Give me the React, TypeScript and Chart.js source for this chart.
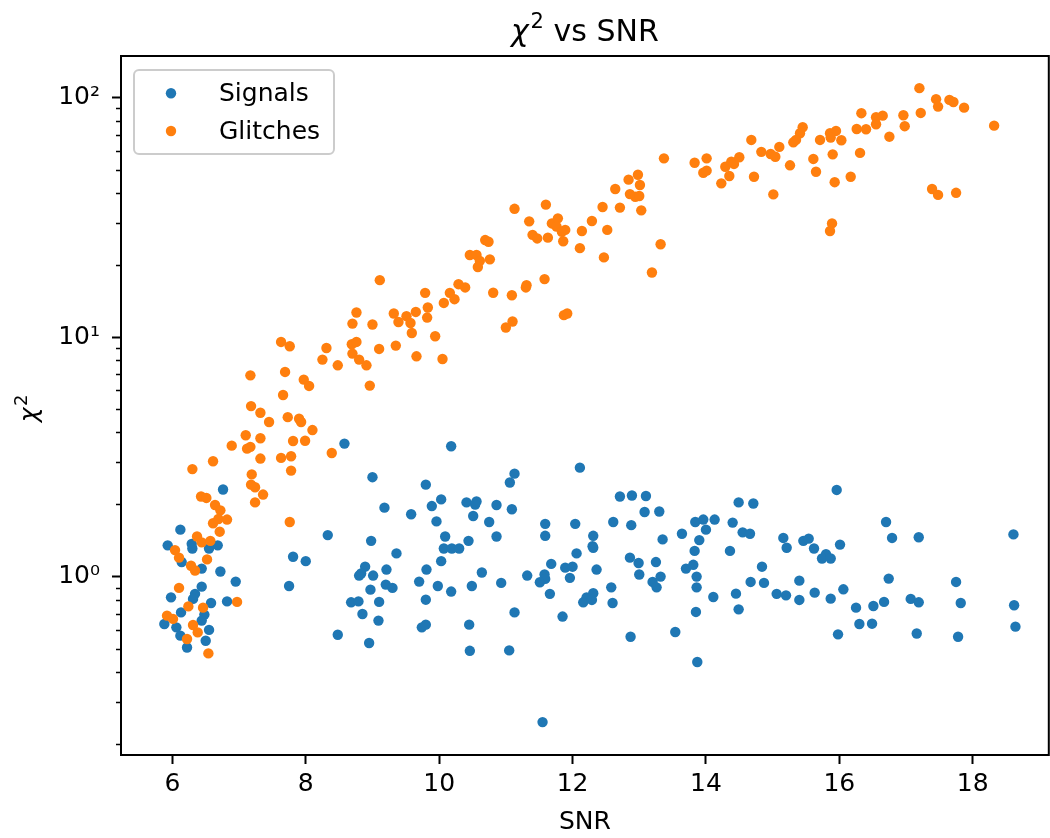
import React, { useEffect, useRef } from 'react';
import { Chart, registerables } from 'chart.js';

Chart.register(...registerables);

const seriesLabels = ['Signals', 'Glitches'];
const seriesColors = ['#1f77b4', '#ff7f0e'];

const signalSNR = [
  6.76, 6.12, 5.93, 6.29, 6.30, 6.68, 6.55, 6.14, 6.44, 6.72, 6.95, 6.44, 6.34, 5.98, 6.31, 6.58, 6.82, 6.13, 6.48, 6.44,
  5.88, 6.06, 6.55, 6.12, 6.50, 6.22, 8.58, 10.18, 9.00, 9.80, 10.03, 9.89, 10.41, 9.18, 9.58, 9.96, 10.51, 8.33, 8.98, 10.09,
  10.44, 10.07, 10.19, 10.30, 9.36, 10.03, 7.81, 8.00, 8.89, 9.21, 9.81, 8.80, 8.83, 9.01, 9.70, 9.20, 9.30, 9.98, 10.18, 8.97,
  7.75, 10.49, 8.68, 8.79, 9.10, 9.80, 8.85, 9.09, 9.74, 9.80, 10.45, 8.48, 8.95, 10.46, 12.11, 11.13, 11.06, 10.56, 10.54, 10.86,
  11.09, 10.75, 12.71, 12.89, 13.10, 13.08, 13.30, 11.59, 12.04, 12.61, 12.88, 11.59, 10.86, 12.31, 12.30, 12.31, 12.06, 12.86, 12.99, 13.25,
  11.68, 11.89, 12.00, 12.36, 10.64, 11.32, 11.58, 11.59, 11.51, 11.96, 13.00, 13.20, 13.26, 13.32, 10.93, 11.66, 12.58, 12.31, 12.21, 12.16,
  12.29, 12.60, 11.13, 11.85, 12.87, 11.05, 11.55, 15.96, 14.49, 14.71, 13.84, 13.96, 14.13, 14.00, 14.40, 13.64, 14.55, 14.66, 13.90, 13.35,
  15.16, 15.21, 15.46, 15.54, 16.01, 13.83, 14.36, 15.62, 15.80, 15.74, 15.87, 13.70, 13.81, 14.84, 13.86, 13.86, 14.67, 14.87, 15.40, 14.11,
  14.45, 15.06, 15.20, 15.40, 15.63, 15.87, 16.06, 13.85, 14.49, 13.54, 15.98, 13.87, 16.70, 16.79, 17.19, 18.61, 16.74, 17.75, 16.25, 16.51,
  16.67, 17.07, 17.19, 17.82, 18.62, 16.30, 16.49, 17.16, 17.78, 18.64,
];
const signalChi2 = [
  2.31, 1.57, 1.35, 1.37, 1.31, 1.35, 1.31, 1.15, 1.08, 1.05, 0.953, 0.908, 0.847, 0.819, 0.807, 0.776, 0.788, 0.709, 0.694, 0.655,
  0.634, 0.614, 0.599, 0.567, 0.540, 0.506, 3.59, 3.50, 2.60, 2.42, 2.10, 1.97, 2.04, 1.94, 1.82, 1.70, 1.79, 1.49, 1.41, 1.47,
  1.41, 1.31, 1.31, 1.31, 1.25, 1.16, 1.21, 1.16, 1.10, 1.07, 1.07, 1.01, 1.03, 1.01, 0.953, 0.926, 0.897, 0.914, 0.866, 0.882,
  0.914, 0.914, 0.781, 0.788, 0.784, 0.801, 0.698, 0.655, 0.614, 0.630, 0.630, 0.572, 0.528, 0.490, 2.85, 2.69, 2.47, 2.06, 2.00, 1.99,
  1.91, 1.69, 2.16, 2.18, 2.17, 1.86, 1.87, 1.66, 1.66, 1.69, 1.64, 1.48, 1.47, 1.48, 1.34, 1.32, 1.25, 1.20, 1.14, 1.15,
  1.13, 1.09, 1.10, 1.07, 1.04, 1.01, 1.02, 0.978, 0.947, 0.988, 1.02, 0.950, 0.902, 1.00, 0.941, 0.847, 0.902, 0.852, 0.819, 0.781,
  0.799, 0.776, 0.709, 0.681, 0.561, 0.492, 0.247, 2.30, 2.04, 2.02, 1.69, 1.73, 1.73, 1.57, 1.68, 1.51, 1.53, 1.51, 1.42, 1.43,
  1.45, 1.32, 1.41, 1.44, 1.36, 1.28, 1.28, 1.31, 1.24, 1.19, 1.19, 1.08, 1.12, 1.10, 1.00, 0.902, 0.950, 0.941, 0.962, 0.822,
  0.849, 0.847, 0.835, 0.799, 0.857, 0.809, 0.885, 0.712, 0.730, 0.587, 0.574, 0.440, 1.69, 1.45, 1.46, 1.50, 0.981, 0.950, 0.742, 0.754,
  0.784, 0.807, 0.781, 0.776, 0.759, 0.634, 0.636, 0.579, 0.561, 0.618,
];

const glitchSNR = [
  7.17, 7.18, 7.32, 7.45, 7.10, 7.32, 7.12, 7.17, 6.89, 7.32, 6.61, 6.30, 7.19, 7.18, 7.24, 7.36, 7.24, 6.43, 6.51, 6.64,
  6.72, 6.69, 6.82, 6.61, 6.71, 6.37, 6.44, 6.57, 6.04, 6.10, 6.52, 6.28, 6.34, 6.10, 6.97, 6.24, 6.46, 5.92, 6.01, 6.31,
  6.38, 6.22, 6.54, 7.63, 7.76, 7.69, 7.97, 8.05, 7.66, 7.73, 7.90, 7.93, 8.10, 7.81, 7.99, 7.63, 7.78, 7.78, 8.39, 7.76,
  8.31, 8.25, 8.48, 8.69, 8.76, 8.70, 8.80, 8.91, 8.96, 8.76, 8.70, 9.00, 9.10, 9.35, 9.32, 9.51, 9.39, 9.57, 9.65, 9.59,
  9.66, 9.94, 10.05, 9.83, 9.82, 9.79, 10.07, 10.16, 10.23, 10.39, 10.29, 9.11, 12.64, 11.13, 11.60, 12.45, 12.71, 11.35, 12.29, 11.69,
  11.78, 11.76, 11.89, 11.84, 12.14, 12.52, 11.40, 11.47, 11.63, 11.86, 12.11, 12.47, 10.69, 10.74, 10.46, 10.56, 10.61, 10.58, 10.76, 10.81,
  11.09, 11.31, 11.30, 11.58, 11.10, 11.00, 11.87, 11.92, 15.45, 15.41, 15.35, 15.31, 14.68, 14.83, 15.10, 14.97, 15.04, 15.61, 15.65, 15.26,
  14.72, 15.01, 13.37, 13.83, 14.01, 13.96, 14.01, 14.29, 14.38, 14.42, 14.50, 14.35, 14.23, 12.84, 12.98, 13.01, 12.86, 12.94, 13.00, 13.03,
  13.32, 13.19, 17.20, 17.45, 17.48, 17.65, 17.71, 17.87, 18.32, 16.33, 16.55, 16.65, 16.96, 17.22, 16.55, 16.98, 16.26, 16.40, 16.75, 15.86,
  15.95, 15.87, 15.71, 16.03, 15.90, 16.31, 15.93, 16.17, 17.39, 17.48, 17.75, 15.89, 15.86,
];
const glitchChi2 = [
  6.92, 5.15, 4.83, 4.42, 3.89, 3.78, 3.42, 3.48, 3.52, 3.11, 3.03, 2.81, 2.67, 2.42, 2.36, 2.20, 2.04, 2.16, 2.13, 1.99,
  1.89, 1.74, 1.73, 1.67, 1.54, 1.47, 1.39, 1.41, 1.29, 1.20, 1.18, 1.11, 1.06, 0.897, 0.784, 0.751, 0.742, 0.687, 0.666, 0.628,
  0.585, 0.549, 0.478, 9.54, 9.15, 7.15, 6.64, 6.25, 5.73, 4.63, 4.56, 4.42, 4.09, 3.68, 3.69, 3.13, 3.18, 2.77, 3.28, 1.69,
  9.00, 8.05, 7.62, 9.33, 9.54, 8.53, 8.05, 7.62, 6.27, 12.66, 11.38, 11.28, 8.92, 9.21, 12.54, 12.22, 11.56, 11.45, 12.73, 10.40,
  8.31, 10.08, 8.10, 13.29, 12.06, 15.29, 13.88, 15.29, 14.39, 16.11, 16.62, 17.28, 41.5, 34.3, 35.7, 34.9, 34.7, 30.4, 30.5, 29.8,
  31.3, 28.9, 28.0, 27.5, 27.7, 28.0, 26.7, 25.8, 26.0, 25.1, 23.5, 21.5, 25.4, 25.0, 22.0, 22.0, 20.8, 19.6, 21.1, 15.3,
  14.95, 16.47, 16.11, 17.45, 11.61, 10.96, 12.34, 12.54, 75.1, 70.9, 66.5, 65.0, 66.5, 59.3, 62.2, 58.1, 56.6, 55.4, 49.0, 52.1,
  46.7, 39.4, 55.7, 53.4, 55.7, 48.5, 49.5, 51.4, 54.0, 52.8, 56.3, 47.0, 43.8, 45.4, 47.6, 43.1, 39.5, 38.5, 38.8, 33.8,
  24.4, 18.6, 109.4, 98.4, 91.6, 97.7, 95.8, 90.7, 76.3, 86.0, 82.7, 84.0, 84.3, 86.2, 77.3, 75.9, 73.9, 73.7, 68.6, 70.9,
  72.5, 68.0, 66.5, 66.3, 57.9, 58.7, 44.3, 46.7, 41.5, 39.2, 40.0, 29.8, 27.7,
];

const xTickValues = [6, 8, 10, 12, 14, 16, 18];
const yMajorTicks = [1, 10, 100];
const yTickLabels = ['10\u2070', '10\u00b9', '10\u00b2'];
const yMinorTicks = [0.2, 0.3, 0.4, 0.5, 0.6, 0.7, 0.8, 0.9, 2, 3, 4, 5, 6, 7, 8, 9, 20, 30, 40, 50, 60, 70, 80, 90];
const titleSuffix = ' vs SNR';
const xAxisLabel = 'SNR';

const FONT = '"DejaVu Sans", sans-serif';
const CANVAS_W = 1054;

function drawChi2(ctx: CanvasRenderingContext2D, x: number, y: number, size: number, suffix: string) {
  const italic = `italic ${size}px ${FONT}`;
  const normal = `${size}px ${FONT}`;
  const sup = `${Math.round(size * 0.7)}px ${FONT}`;
  ctx.font = italic;
  const w1 = ctx.measureText('\u03c7').width;
  ctx.font = sup;
  const w2 = ctx.measureText('2').width;
  ctx.font = normal;
  const w3 = suffix ? ctx.measureText(suffix).width : 0;
  const gap = size * 0.06;
  let x0 = x - (w1 + gap + w2 + w3) / 2;
  ctx.textAlign = 'left';
  ctx.textBaseline = 'alphabetic';
  ctx.fillStyle = '#000';
  ctx.font = italic;
  ctx.fillText('\u03c7', x0, y);
  x0 += w1 + gap;
  ctx.font = sup;
  ctx.fillText('2', x0, y - size * 0.42);
  x0 += w2;
  if (suffix) {
    ctx.font = normal;
    ctx.fillText(suffix, x0, y);
  }
}

const decorPlugin = {
  id: 'decor',
  afterDraw(chart: any) {
    const ctx: CanvasRenderingContext2D = chart.ctx;
    const area = chart.chartArea;
    const yScale = chart.scales.y;
    ctx.save();
    // top & right spines
    ctx.strokeStyle = '#000';
    ctx.lineWidth = 2;
    ctx.beginPath();
    ctx.moveTo(area.left - 1, area.top);
    ctx.lineTo(area.right, area.top);
    ctx.lineTo(area.right, area.bottom + 1);
    ctx.stroke();
    // minor y ticks
    ctx.lineWidth = 1.5;
    ctx.beginPath();
    for (const v of yMinorTicks) {
      const py = Math.round(yScale.getPixelForValue(v)) + 0.5;
      ctx.moveTo(area.left - 5, py);
      ctx.lineTo(area.left, py);
    }
    ctx.stroke();
    // title
    drawChi2(ctx, (area.left + area.right) / 2, 41, 30, titleSuffix);
    // x label
    ctx.font = `25px ${FONT}`;
    ctx.textAlign = 'center';
    ctx.textBaseline = 'alphabetic';
    ctx.fillStyle = '#000';
    ctx.fillText(xAxisLabel, (area.left + area.right) / 2, 829);
    // y label
    ctx.save();
    ctx.translate(37, (area.top + area.bottom) / 2 + 3);
    ctx.rotate(-Math.PI / 2);
    drawChi2(ctx, 0, 0, 25, '');
    ctx.restore();
    // legend
    const lx = 134, ly = 70, lw = 200, lh = 84;
    ctx.beginPath();
    (ctx as any).roundRect(lx, ly, lw, lh, 5);
    ctx.fillStyle = 'rgba(255,255,255,0.8)';
    ctx.fill();
    ctx.strokeStyle = '#cccccc';
    ctx.lineWidth = 2;
    ctx.stroke();
    const rows = [93.3, 131];
    seriesLabels.forEach((lab, i) => {
      ctx.beginPath();
      ctx.arc(171, rows[i], 5.2, 0, Math.PI * 2);
      ctx.fillStyle = seriesColors[i];
      ctx.fill();
      ctx.fillStyle = '#000';
      ctx.font = `25px ${FONT}`;
      ctx.textAlign = 'left';
      ctx.textBaseline = 'alphabetic';
      ctx.fillText(lab, 219, rows[i] + 7.5);
    });
    ctx.restore();
  },
};

export default function App() {
  const ref = useRef<HTMLCanvasElement>(null);
  useEffect(() => {
    const canvas = ref.current;
    if (!canvas) return;
    const signals = signalSNR.map((x, i) => ({ x, y: signalChi2[i] }));
    const glitches = glitchSNR.map((x, i) => ({ x, y: glitchChi2[i] }));
    const chart = new Chart(canvas, {
      type: 'scatter',
      data: {
        datasets: [
          {
            label: seriesLabels[0],
            data: signals,
            backgroundColor: seriesColors[0],
            pointRadius: 5.2,
            pointHoverRadius: 5.2,
            pointBorderWidth: 0,
            order: 2,
          },
          {
            label: seriesLabels[1],
            data: glitches,
            backgroundColor: seriesColors[1],
            pointRadius: 5.2,
            pointHoverRadius: 5.2,
            pointBorderWidth: 0,
            order: 1,
          },
        ],
      },
      options: {
        responsive: false,
        animation: false,
        devicePixelRatio: 1,
        layout: { padding: { top: 56, left: 0, right: 1, bottom: 0 } },
        plugins: {
          legend: { display: false },
          title: { display: false },
          tooltip: { enabled: false },
        },
        scales: {
          x: {
            type: 'linear',
            min: 5.23,
            max: 19.14,
            afterBuildTicks: (s: any) => {
              s.ticks = xTickValues.map((v) => ({ value: v }));
            },
            afterFit: (s: any) => {
              s.height = 83;
              s.paddingLeft = 0;
              s.paddingRight = 0;
            },
            ticks: {
              autoSkip: false,
              maxRotation: 0,
              padding: 5,
              color: '#000',
              font: { family: FONT, size: 25 },
              callback: (v: any) => String(v),
            },
            grid: {
              display: true,
              drawOnChartArea: false,
              drawTicks: true,
              tickLength: 9,
              tickWidth: 2,
              tickColor: '#000',
            },
            border: { display: true, color: '#000', width: 2 },
          },
          y: {
            type: 'logarithmic',
            min: 0.18,
            max: 149,
            afterBuildTicks: (s: any) => {
              s.ticks = yMajorTicks.map((v) => ({ value: v, major: true }));
            },
            afterFit: (s: any) => {
              s.width = 121;
              s.paddingTop = 0;
              s.paddingBottom = 0;
            },
            ticks: {
              autoSkip: false,
              padding: 12,
              color: '#000',
              font: { family: FONT, size: 25 },
              callback: (v: any) => {
                const idx = yMajorTicks.indexOf(Number(v));
                return idx >= 0 ? yTickLabels[idx] : '';
              },
            },
            grid: {
              display: true,
              drawOnChartArea: false,
              drawTicks: true,
              tickLength: 9,
              tickWidth: 2,
              tickColor: '#000',
            },
            border: { display: true, color: '#000', width: 2 },
          },
        },
      },
      plugins: [decorPlugin],
    } as any);
    return () => chart.destroy();
  }, []);
  return (
    <div style={{ position: 'absolute', left: 0, top: 0, width: 1050, height: 838, overflow: 'hidden', background: '#fff' }}>
      <canvas ref={ref} width={CANVAS_W} height={838} style={{ display: 'block', width: CANVAS_W, height: 838 }} />
    </div>
  );
}
